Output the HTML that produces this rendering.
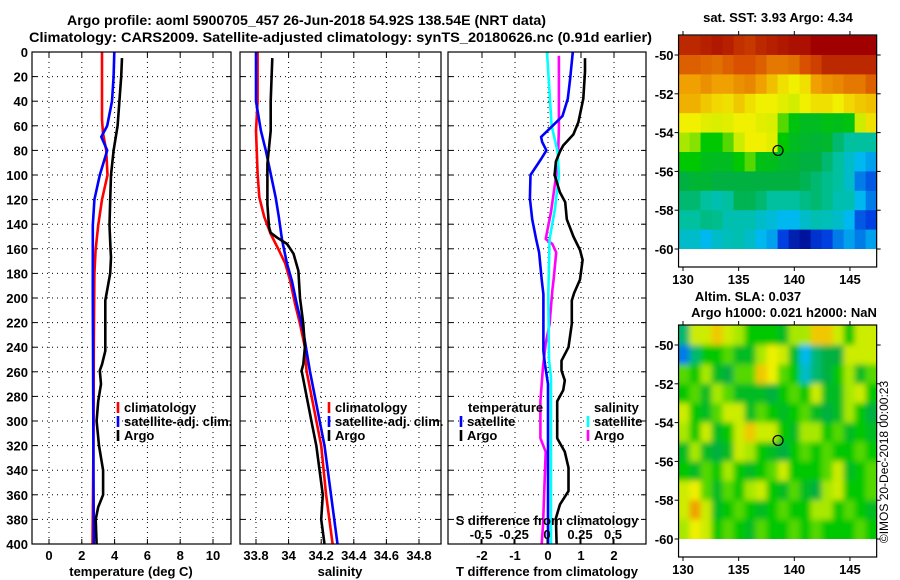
<!DOCTYPE html>
<html>
<head>
<meta charset="utf-8">
<style>
  html,body{margin:0;padding:0;background:#fff;}
  svg{display:block;font-family:"Liberation Sans",Arial,sans-serif;}
  .b{font-weight:bold;font-size:13px;fill:#000;}
  .t{font-weight:bold;font-size:14px;fill:#000;}
</style>
</head>
<body>
<svg id="chart" width="900" height="580" viewBox="0 0 900 580" xmlns="http://www.w3.org/2000/svg">
  <text class="t" x="67" y="25" textLength="479" lengthAdjust="spacingAndGlyphs">Argo profile: aoml 5900705_457 26-Jun-2018 54.92S 138.54E (NRT data)</text>
  <text class="t" x="29" y="42" textLength="623" lengthAdjust="spacingAndGlyphs">Climatology: CARS2009. Satellite-adjusted climatology: synTS_20180626.nc (0.91d earlier)</text>
  <g id="layer"></g>
  <text class="b" x="778" y="22" text-anchor="middle">sat. SST: 3.93 Argo: 4.34</text>
  <text class="b" x="748" y="301" text-anchor="middle">Altim. SLA: 0.037</text>
  <text class="b" x="784" y="317" text-anchor="middle">Argo h1000: 0.021 h2000: NaN</text>
  <text x="888" y="462" font-size="12" text-anchor="middle" transform="rotate(-90 888 462)">©IMOS 20-Dec-2018 00:00:23</text>
</svg>
<script>
// ---------- profile data ----------
const depthTicks = [0,20,40,60,80,100,120,140,160,180,200,220,240,260,280,300,320,340,360,380,400];
const tempTicks = [0,2,4,6,8,10];
const salTicks = [33.8,34,34.2,34.4,34.6,34.8];
const diffTicks = [-2,-1,0,1,2];
const sdiffTicks = [-0.5,-0.25,0,0.25,0.5];
const sdiffTickLabels = ["-0.5","-0.25","0","0.25","0.5"];

const argoTDepth = [5,20,40,60,80,100,120,141,160,167,180,202,243,254,259,270,284,300,320,340,360,370,380,400];
const argoTemp   = [4.45,4.4,4.29,4.18,3.94,3.78,3.73,3.69,3.75,3.78,3.73,3.43,3.43,3.23,3.1,3.17,3.0,2.9,3.05,3.3,3.3,3.0,2.85,2.9];
const climTDepth = [0,20,40,55,66,80,100,120,141,161,180,240,300,360,400];
const climTemp   = [3.23,3.23,3.23,3.23,3.29,3.49,3.57,3.23,3.0,2.84,2.77,2.73,2.72,2.68,2.65];
const satTDepth  = [0,20,40,60,69,80,100,120,141,200,300,400];
const satTemp    = [3.98,3.94,3.84,3.55,3.19,3.55,3.1,2.77,2.67,2.67,2.7,2.73];

const argoSDepth = [5,40,64,91,124,142,147,151,156,164,178,200,221,240,254,259,300,320,360,380,400];
const argoSal    = [33.9,33.89,33.89,33.87,33.87,33.88,33.89,33.93,33.99,34.03,34.06,34.07,34.09,34.1,34.09,34.08,34.14,34.17,34.21,34.2,34.22];
const climSDepth = [0,40,64,99,118,134,148,161,172,186,205,221,240,259,320,360,400];
const climSal    = [33.81,33.81,33.8,33.81,33.82,33.85,33.89,33.94,33.98,34.01,34.04,34.07,34.1,34.11,34.2,34.23,34.27];
const satSDepth  = [0,40,64,80,99,118,134,153,172,186,205,227,259,320,360,400];
const satSal     = [33.8,33.8,33.83,33.86,33.89,33.92,33.94,33.96,33.99,34.02,34.05,34.09,34.13,34.22,34.26,34.3];

const dTArgoDepth = [5,16,38,57,67,76,81,89,100,114,122,136,150,161,169,185,196,202,221,240,251,259,267,275,284,314,325,338,357,368,379,400];
const dTArgo      = [1.12,1.12,1.07,0.92,0.77,0.46,0.36,0.24,0.2,0.36,0.52,0.57,0.77,0.97,1.05,0.97,0.79,0.72,0.72,0.62,0.41,0.41,0.51,0.46,0.28,0.28,0.51,0.62,0.62,0.36,0.24,0.26];
const dTSatDepth  = [0,22,38,52,60,69,73,80,87,100,119,136,152,163,185,197,243,254,270,400];
const dTSat       = [0.75,0.67,0.6,0.44,0.14,-0.21,-0.18,-0.05,-0.21,-0.53,-0.55,-0.48,-0.36,-0.27,-0.19,-0.14,-0.14,-0.09,0.0,0.0];
const dSSatDepth  = [0,22,60,81,100,128,152,197,250,265,400];
const dSSat       = [0.0,0.013,0.035,0.08,0.09,0.06,0.02,0.01,0.015,0.03,0.03];
const dSArgoDepth = [3,62,81,100,130,152,156,163,185,194,221,237,256,284,314,325,385,400];
const dSArgo      = [0.09,0.09,0.085,0.07,0.03,-0.01,0.04,0.07,0.05,0.04,0.02,-0.01,-0.03,-0.05,-0.05,-0.01,-0.03,-0.04];

// ---------- map data (rows lat -49..-60, cols lon ~129.6..147.4) ----------
const sstGrid = [
 [9.5,9.5,9.6,9.7,9.6,9.4,9.3,9.5,9.6,9.7,9.8,9.8,10,10,10,10,10,10],
 [8.8,8.8,8.7,8.6,8.8,9,9,8.8,8.5,8.5,8.6,9,9.2,9.5,9.5,9.5,9.5,9.5],
 [8,8,8.2,8,8,8.2,8.3,8,7.6,7.2,7,7.2,8,8.2,8.3,8.5,8.5,8.8],
 [7.8,7.8,7.5,7.3,7.2,7.5,7.2,7,7,6.8,6.6,7,7.2,7.2,7,7.3,7.5,7.6],
 [7,7,6.8,6.7,6.8,7,7,6.8,6.7,5.5,4.8,4.5,4.5,4.7,4.6,4.8,6.5,7.2],
 [6,5.8,5,5,5.5,6.5,7,7,6.8,5,4.5,4.3,4.2,4.3,3.5,3,3,3],
 [5,5,4.6,4.5,4.5,5,5.5,4.7,4.6,4.3,4.2,4,4,3.5,3,2.5,2,1.8],
 [4,4.2,4.2,4,4,4,4,4,4,4,4,3.8,3.5,3.2,3,2.5,1.5,1.2],
 [3.5,3.5,3,2.8,3,3.8,3.8,3.5,3,3,3,3.3,3.5,3.2,2.8,2.8,2,1.5],
 [3,3,3.3,3.2,2.8,2.8,2.8,2.5,2.3,2,2,2.5,2.8,2.7,2.5,2,1.2,1],
 [2.5,2.5,2,2.5,2.7,2.8,2.5,2,1.8,1,0.5,0.3,0.8,1,1.5,1.8,1.5,1.8]
];
const slaGrid = [
 [3.5,6.5,6.5,7.5,6.5,6,5,5,5,4.5,6,6,7.5,7.5,6.5,5,6.5,6.5],
 [1.5,3.5,5,5,5.5,4.5,4.5,6,7,6.5,4.5,2,3.5,4,4,6.5,6.5,6.5],
 [5.5,5,6,4.5,4,5.5,5.5,7.5,7,5.5,5,2.5,3.5,4,5,6,4.5,5.5],
 [5,5.5,4.5,6,5.5,4.5,4.5,4.5,4,5,5.5,5,6.5,4.5,4.5,6,6.5,5],
 [6.5,5,4.5,5.5,6.5,6.5,4.5,5.5,5,4.5,5,5.5,4.5,4,4.5,6,5,4],
 [6,5,6.5,4.5,5,6.5,7.5,6.5,6.5,5,4.5,6,6,5,5.5,4.5,5,4.5],
 [4.5,6,4.5,4,4.5,6.5,6,5,4.5,4,5,5.5,5,5.5,5,5,5.5,5],
 [5,4.5,5.5,5,6,5,4.5,5,5.5,6.5,5,5,5,5.5,6.5,4.5,5,5.5],
 [6.5,7,5.5,4.5,5.5,5,6,6.5,5,4.5,5.5,4.5,4,6,6.5,5,5,5.5],
 [6.5,8,6.5,4.5,5,5.5,5,4.5,5,5.5,5,5,6,6,5,5.5,5,4.5],
 [6,7,6.5,5,5.5,5,4.5,5.5,5,5,5.5,5,5.5,5,5,5,5.5,5]
];
const latTicks = [-50,-52,-54,-56,-58,-60];
const lonTicks = [130,135,140,145];
const floatLon = 138.54;
const floatLat = -54.92;

// ---------- helpers ----------
const NS = "http://www.w3.org/2000/svg";
const layer = document.getElementById("layer");
function mk(tag, attrs, parent){
  const e = document.createElementNS(NS, tag);
  for (const k in attrs) e.setAttribute(k, attrs[k]);
  (parent || layer).appendChild(e);
  return e;
}
const TOP = 52, BOT = 544;
const yD = d => TOP + d * (BOT - TOP) / 400;
const xT = t => 49 + 16.4 * t;
const xS = s => 256 + (s - 33.8) * 163;
const xDT = t => 548 + 33 * t;
const xDS = s => 547 + 132 * s;

const panels = [
  {x0:32, x1:231, name:"temperature-panel", ticks:tempTicks, fx:xT, labels:tempTicks.map(String), xlabel:"temperature (deg C)", lx:131},
  {x0:240, x1:441, name:"salinity-panel", ticks:salTicks, fx:xS, labels:["33.8","34","34.2","34.4","34.6","34.8"], xlabel:"salinity", lx:340},
  {x0:448, x1:646, name:"difference-panel", ticks:diffTicks, fx:xDT, labels:diffTicks.map(String), xlabel:"T difference from climatology", lx:547}
];

panels.forEach((p, pi) => {
  const g = mk("g", {});
  
  
  depthTicks.forEach(d => {
    const y = yD(d);
    if (d > 0 && d < 400) {
      const gl = mk("line", {x1:p.x0, x2:p.x1, y1:y, y2:y, stroke:"#000", "stroke-width":1, "stroke-dasharray":"1,4"}, g);
      
      
    }
    mk("line", {x1:p.x0, x2:p.x0+5, y1:y, y2:y, stroke:"#000"}, g);
    mk("line", {x1:p.x1-5, x2:p.x1, y1:y, y2:y, stroke:"#000"}, g);
    if (pi === 0) {
      const t = mk("text", {x:28, y:y+5, "text-anchor":"end", class:"b"}, g);
      t.textContent = d;
      
      
    }
  });
  p.ticks.forEach((v, i) => {
    const x = p.fx(v);
    const gl = mk("line", {x1:x, x2:x, y1:TOP, y2:BOT, stroke:"#000", "stroke-width":1, "stroke-dasharray":"1,4"}, g);
    
    
    mk("line", {x1:x, x2:x, y1:BOT-5, y2:BOT, stroke:"#000"}, g);
    mk("line", {x1:x, x2:x, y1:TOP, y2:TOP+5, stroke:"#000"}, g);
    const t = mk("text", {x:x, y:560, "text-anchor":"middle", class:"b"}, g);
    t.textContent = p.labels[i];
    
    
  });
  const xl = mk("text", {x:p.lx, y:576, "text-anchor":"middle", class:"b"}, g);
  xl.textContent = p.xlabel;
  
  
});

function series(fx, vals, depths, color, name){
  const pts = vals.map((v, i) => fx(v).toFixed(1) + "," + yD(depths[i]).toFixed(1)).join(" ");
  const pl = mk("polyline", {points:pts, fill:"none", stroke:color, "stroke-width":2.6, "stroke-linejoin":"round"});
  
  
}
series(xT, climTemp, climTDepth, "#ff0000", "climatology-temperature-line");
series(xT, satTemp, satTDepth, "#0000ff", "satellite-temperature-line");
series(xT, argoTemp, argoTDepth, "#000000", "argo-temperature-line");
series(xS, climSal, climSDepth, "#ff0000", "climatology-salinity-line");
series(xS, satSal, satSDepth, "#0000ff", "satellite-salinity-line");
series(xS, argoSal, argoSDepth, "#000000", "argo-salinity-line");
series(xDS, dSArgo, dSArgoDepth, "#ff00ff", "argo-salinity-diff-line");
series(xDS, dSSat, dSSatDepth, "#00ffff", "satellite-salinity-diff-line");
series(xDT, dTSat, dTSatDepth, "#0000ff", "satellite-temperature-diff-line");
series(xDT, dTArgo, dTArgoDepth, "#000000", "argo-temperature-diff-line");

panels.forEach(p => {
  const r = mk("rect", {x:p.x0, y:TOP, width:p.x1-p.x0, height:BOT-TOP, fill:"none", stroke:"#000", "stroke-width":1.2});
  
  
});

const sdt = mk("text", {x:547, y:525, "text-anchor":"middle", class:"b"});
sdt.textContent = "S difference from climatology";


sdiffTicks.forEach((v, i) => {
  const x = xDS(v);
  mk("line", {x1:x, x2:x, y1:BOT-5, y2:BOT, stroke:"#000"});
  const t = mk("text", {x:x, y:539, "text-anchor":"middle", class:"b"});
  t.textContent = sdiffTickLabels[i];
  
  
});

function legendEntry(x, y, color, label, name){
  if (color) mk("line", {x1:x, x2:x, y1:y-10, y2:y+1, stroke:color, "stroke-width":2.6});
  const t = mk("text", {x:x+6, y:y, class:"b"});
  t.textContent = label;
  
  
}
legendEntry(118, 412, "#ff0000", "climatology", "legend-entry-climatology");
legendEntry(118, 426, "#0000ff", "satellite-adj. clim.", "legend-entry-satellite-adj");
legendEntry(118, 440, "#000000", "Argo", "legend-entry-argo");
legendEntry(329, 412, "#ff0000", "climatology", "legend-entry-climatology");
legendEntry(329, 426, "#0000ff", "satellite-adj. clim.", "legend-entry-satellite-adj");
legendEntry(329, 440, "#000000", "Argo", "legend-entry-argo");
legendEntry(462, 412, null, "temperature", "legend-heading-temperature");
legendEntry(461, 426, "#0000ff", "satellite", "legend-entry-temperature-satellite");
legendEntry(461, 440, "#000000", "Argo", "legend-entry-temperature-argo");
legendEntry(588, 412, null, "salinity", "legend-heading-salinity");
legendEntry(588, 426, "#00ffff", "satellite", "legend-entry-salinity-satellite");
legendEntry(588, 440, "#ff00ff", "Argo", "legend-entry-salinity-argo");

// ---------- maps ----------
const stops = [[0,[0,0,128]],[1,[0,64,224]],[2,[0,184,240]],[3,[0,192,160]],[4,[0,176,64]],[5,[0,200,0]],[6,[168,232,0]],[7,[240,240,0]],[8,[240,160,0]],[9,[216,80,0]],[10,[160,0,0]]];
function colorOf(v){
  v = Math.max(0, Math.min(10, v));
  for (let i = 0; i < stops.length-1; i++){
    const a = stops[i], b = stops[i+1];
    if (v <= b[0]) {
      const f = (v - a[0]) / (b[0] - a[0]);
      const c = a[1].map((x, k) => Math.round(x + f * (b[1][k] - x)));
      return "rgb(" + c.join(",") + ")";
    }
  }
  return "rgb(160,0,0)";
}
const lonX = lon => 683 + (lon - 130) * 11.13;
const LON0 = 129.6, LON1 = 147.4;
function drawMap(grid, top, name, blur){
  const latY = lat => top + 20 + (-50 - lat) * 19.4;
  const g = mk("g", {});
  
  
  const x0 = lonX(LON0), x1 = lonX(LON1), y0 = top, y1 = top + 232;
  const clipId = name + "-clip";
  const cp = mk("clipPath", {id:clipId}, g);
  mk("rect", {x:x0, y:y0, width:x1-x0, height:latY(-60)-y0}, cp);
  let cells = mk("g", {"clip-path":"url(#" + clipId + ")"}, g);
  if (blur) {
    const f = mk("filter", {id:name+"-blur", x:"-10%", y:"-10%", width:"120%", height:"120%"}, g);
    mk("feGaussianBlur", {stdDeviation:blur}, f);
    cells = mk("g", {filter:"url(#" + name + "-blur)"}, cells);
  }
  const nc = grid[0].length;
  const dLon = (LON1 - LON0) / nc;
  const pad = blur ? 6 : 0;
  grid.forEach((row, r) => {
    row.forEach((v, c) => {
      const lonA = LON0 + c * dLon, latA = -49 - r;
      const xa = lonX(lonA), ya = latY(latA);
      const ex0 = c === 0 ? pad : 0, ex1 = c === nc-1 ? pad : 0;
      const ey0 = r === 0 ? pad : 0, ey1 = r === grid.length-1 ? pad : 0;
      const cell = mk("rect", {x:xa-ex0, y:ya-ey0, width:lonX(lonA+dLon)-xa+0.6+ex0+ex1, height:latY(latA-1)-ya+0.6+ey0+ey1, fill:colorOf(v)}, cells);
      
      
    });
  });
  const fr = mk("rect", {x:x0, y:y0, width:x1-x0, height:y1-y0, fill:"none", stroke:"#000", "stroke-width":1.2}, g);
  
  
  latTicks.forEach(lat => {
    const y = latY(lat);
    mk("line", {x1:x0-4, x2:x0, y1:y, y2:y, stroke:"#000"}, g);
    mk("line", {x1:x1, x2:x1+4, y1:y, y2:y, stroke:"#000"}, g);
    const t = mk("text", {x:x0-5, y:y+5, "text-anchor":"end", class:"b"}, g);
    t.textContent = lat;
    
    
  });
  lonTicks.forEach(lon => {
    const x = lonX(lon);
    mk("line", {x1:x, x2:x, y1:y0-4, y2:y0, stroke:"#000"}, g);
    mk("line", {x1:x, x2:x, y1:y1, y2:y1+4, stroke:"#000"}, g);
    const t = mk("text", {x:x, y:y1+17, "text-anchor":"middle", class:"b"}, g);
    t.textContent = lon;
    
    
  });
  const c = mk("circle", {cx:lonX(floatLon), cy:latY(floatLat), r:5, fill:"none", stroke:"#000", "stroke-width":1.2}, g);
  
  
}
drawMap(sstGrid, 35, "sst-map", 0);
drawMap(slaGrid, 325, "sla-map", 3);
</script>
</body>
</html>
